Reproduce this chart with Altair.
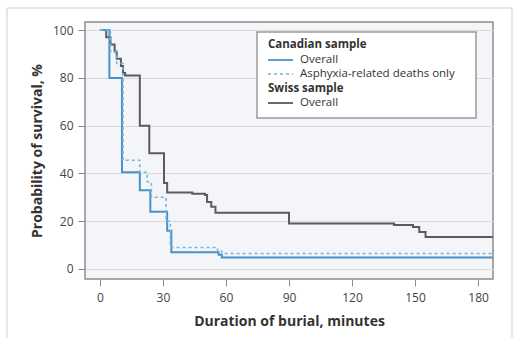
import altair as alt
import pandas as pd

# ---- data ----
swiss_t = [0, 3, 5, 7, 8, 10, 11, 12, 19, 23.5, 30.5, 32, 44, 50, 51, 53, 55, 90, 140, 149, 152, 155, 187]
swiss_s = [100, 97, 94, 91, 88, 85, 82, 81, 60, 48.5, 36, 32, 31.5, 31, 28, 26, 23.5, 19, 18.4, 17.6, 15.5, 13.4, 13.4]
can_t = [0, 4.5, 10.5, 19, 24, 32, 34, 56.5, 58, 187]
can_s = [100, 80, 40.5, 33, 24, 16, 7, 6, 4.8, 4.8]
asph_t = [0, 5, 8, 11, 19, 22.5, 24.5, 31.5, 33.5, 56, 58, 187]
asph_s = [100, 91, 86, 45.5, 40.5, 36.5, 30, 20, 9, 7.5, 6.5, 6.5]

x_ticks = [0, 30, 60, 90, 120, 150, 180]
y_ticks = [0, 20, 40, 60, 80, 100]

FONT = "Open Sans"
SWISS_C = "#5b5b5b"
CAN_C = "#4a92c6"
ASPH_C = "#72b6e2"

swiss = pd.DataFrame({"t": swiss_t, "s": swiss_s})
can = pd.DataFrame({"t": can_t, "s": can_s})
asph = pd.DataFrame({"t": asph_t, "s": asph_s})

xs = alt.Scale(domain=[-7.1, 187.1], nice=False, zero=False)
ys = alt.Scale(domain=[-4.2, 103.4], nice=False, zero=False)

xax = alt.Axis(values=x_ticks, grid=False, domain=False, tickColor="#8a8a8a", tickSize=7,
               labelFont=FONT, labelFontSize=12, labelColor="#444444", labelPadding=6,
               title="Duration of burial, minutes", titleFont=FONT, titleFontSize=14,
               titleFontWeight="bold", titleColor="#333333", titlePadding=11)
yax = alt.Axis(values=y_ticks, grid=True, gridColor="#d9d9dd", gridWidth=1, domain=False,
               tickColor="#8a8a8a", tickSize=7, labelFont=FONT, labelFontSize=12,
               labelColor="#444444", labelPadding=5,
               title="Probability of survival, %", titleFont=FONT, titleFontSize=14,
               titleFontWeight="bold", titleColor="#333333", titlePadding=8)

one = alt.Data(values=[{}])

frame = alt.Chart(one).mark_rect(fillOpacity=0, stroke="#cfcfcf", strokeWidth=1).encode(
    x=alt.value(-78), x2=alt.value(427), y=alt.value(-14), y2=alt.value(320))

swiss_line = alt.Chart(swiss).mark_line(interpolate="step-after", color=SWISS_C, strokeWidth=2, clip=True).encode(
    x=alt.X("t:Q", scale=xs, axis=xax), y=alt.Y("s:Q", scale=ys, axis=yax))
can_line = alt.Chart(can).mark_line(interpolate="step-after", color=CAN_C, strokeWidth=2, clip=True).encode(
    x=alt.X("t:Q", scale=xs), y=alt.Y("s:Q", scale=ys))
asph_line = alt.Chart(asph).mark_line(interpolate="step-after", color=ASPH_C, strokeWidth=1.6,
                                      strokeDash=[3, 3], clip=True).encode(
    x=alt.X("t:Q", scale=xs), y=alt.Y("s:Q", scale=ys))

# ---- custom legend ----
lx0, lx1, ly0, ly1 = 172, 391, 10, 96
box = alt.Chart(one).mark_rect(fill="white", stroke="#9a9a9a", strokeWidth=1.5).encode(
    x=alt.value(lx0), x2=alt.value(lx1), y=alt.value(ly0), y2=alt.value(ly1))

rows = [
    ("Canadian sample", True, None),
    ("Overall", False, ("solid", CAN_C)),
    ("Asphyxia-related deaths only", False, ("dash", ASPH_C)),
    ("Swiss sample", True, None),
    ("Overall", False, ("solid", SWISS_C)),
]
row_y = [23, 38, 52, 67, 81]
legend_layers = [box]
for (label, bold, sym), yy in zip(rows, row_y):
    tx = lx0 + 11 if bold else lx0 + 43
    legend_layers.append(
        alt.Chart(one).mark_text(align="left", baseline="middle", font=FONT, fontSize=11.5,
                                 fontWeight="bold" if bold else "normal", color="#333333").encode(
            x=alt.value(tx), y=alt.value(yy), text=alt.value(label)))
    if sym is not None:
        kind, col = sym
        kw = dict(color=col, strokeWidth=1.6 if kind == "dash" else 1.8)
        if kind == "dash":
            kw["strokeDash"] = [3, 3]
        legend_layers.append(
            alt.Chart(one).mark_rule(**kw).encode(
                x=alt.value(lx0 + 11), x2=alt.value(lx0 + 36), y=alt.value(yy), y2=alt.value(yy)))

chart = alt.layer(frame, swiss_line, can_line, asph_line, *legend_layers).properties(
    width=408, height=257,
    padding={"left": 85, "top": 22, "right": 22, "bottom": 59},
    autosize=alt.AutoSizeParams(type="none"),
    background="white",
).configure_view(fill="#f4f5f9", stroke="#8c8c8c", strokeWidth=1.5)

chart.save("out.html", embed_options={"renderer": "svg", "actions": False})
